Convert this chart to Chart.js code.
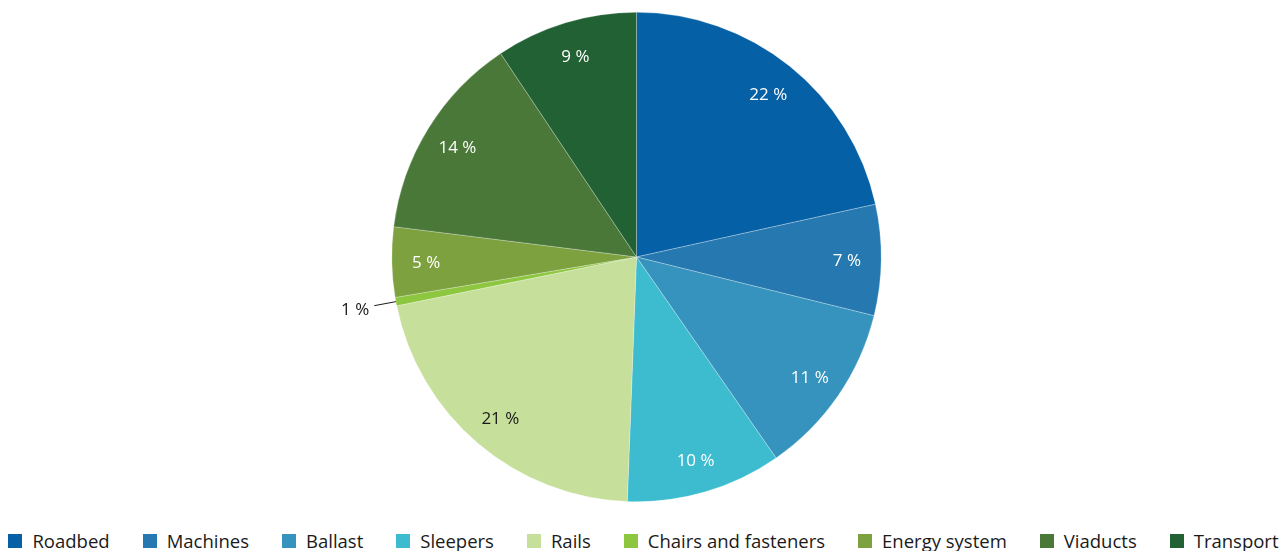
<!DOCTYPE html>
<html>
<head>
<meta charset="utf-8">
<script src="https://cdn.jsdelivr.net/npm/chart.js@4"></script>
<style>
    html, body { margin: 0; padding: 0; background: #fff; overflow: hidden; }
    .chart-wrap { position: relative; width: 1287px; height: 502px; }
    .legend {
        position: absolute; left: 0; top: 531px; width: 1287px;
        display: flex; justify-content: center; gap: 33px;
        font: 18.5px "Open Sans", "Noto Sans", sans-serif; line-height: 20px; color: #1a1a1a;
        white-space: nowrap;
    }
    .legend-item { display: flex; align-items: center; }
    .legend-box { width: 14px; height: 14px; margin-right: 10px; }
</style>
</head>
<body>
<div class="chart-wrap"><canvas id="pieChart"></canvas></div>
<div class="legend" id="legend"></div>
<script>
// ---- Data ----
const categories = ['Roadbed', 'Machines', 'Ballast', 'Sleepers', 'Rails', 'Chairs and fasteners', 'Energy system', 'Viaducts', 'Transport'];
const shares = [21.54, 7.32, 11.48, 10.26, 21.2, 0.56, 4.62, 13.65, 9.37];
const sliceColors = ['#0560a6', '#2679b0', '#3593bd', '#3dbccf', '#c6df9b', '#8dc63f', '#7da13e', '#4a7838', '#216133'];
const labelColors = ['#fff', '#fff', '#fff', '#fff', '#1a1a1a', '#1a1a1a', '#fff', '#fff', '#fff'];
const outsideLabels = [5]; // slices labelled outside with a leader line

const FONT = '"Open Sans", "Noto Sans", sans-serif';

// ---- Percentage labels ----
const sliceLabels = {
    id: 'sliceLabels',
    afterDatasetsDraw(chart) {
        const ctx = chart.ctx;
        const meta = chart.getDatasetMeta(0);
        ctx.save();
        ctx.font = '17px ' + FONT;
        ctx.textBaseline = 'middle';
        meta.data.forEach((arc, i) => {
            const text = Math.round(shares[i]) + ' %';
            const mid = (arc.startAngle + arc.endAngle) / 2;
            const r = arc.outerRadius;
            ctx.fillStyle = labelColors[i];
            if (outsideLabels.includes(i)) {
                const x0 = arc.x + Math.cos(mid) * r;
                const y0 = arc.y + Math.sin(mid) * r;
                const x1 = arc.x + Math.cos(mid) * (r + 22);
                const y1 = arc.y + Math.sin(mid) * (r + 22);
                ctx.strokeStyle = '#1a1a1a';
                ctx.lineWidth = 1;
                ctx.beginPath();
                ctx.moveTo(x0, y0);
                ctx.lineTo(x1, y1);
                ctx.stroke();
                ctx.textAlign = 'right';
                ctx.fillText(text, x1 - 5, y1 + 4);
            } else {
                ctx.textAlign = 'center';
                ctx.fillText(text, arc.x + Math.cos(mid) * r * 0.86, arc.y + Math.sin(mid) * r * 0.86 + 2);
            }
        });
        ctx.restore();
    }
};

// ---- Legend ----
function renderLegend() {
    document.getElementById('legend').innerHTML = categories.map((name, i) => `
        <span class="legend-item">
            <span class="legend-box" style="background:${sliceColors[i]}"></span>${name}
        </span>`).join('');
}

new Chart(document.getElementById('pieChart'), {
    type: 'pie',
    data: {
        labels: categories,
        datasets: [{
            data: shares,
            backgroundColor: sliceColors,
            borderColor: 'rgba(255,255,255,0.45)',
            borderWidth: 0.6
        }]
    },
    options: {
        responsive: true,
        maintainAspectRatio: false,
        animation: false,
        layout: { padding: { top: 12, right: 14 } },
        plugins: {
            tooltip: { enabled: false },
            legend: { display: false }
        }
    },
    plugins: [sliceLabels]
});

renderLegend();
</script>
</body>
</html>
